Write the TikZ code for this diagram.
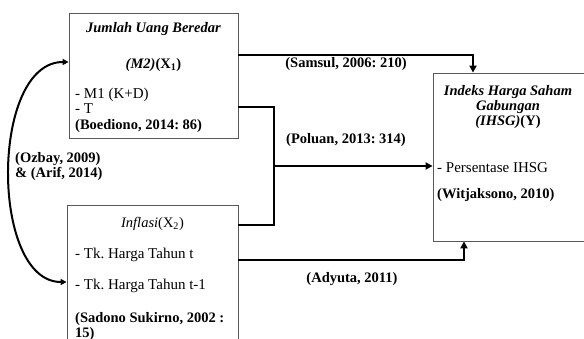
\documentclass[tikz,border=0pt]{standalone}
\usepackage{fontspec}
\setmainfont{Liberation Serif}
\usepackage{tikz}
\usetikzlibrary{positioning, arrows.meta, calc}
\frenchspacing

\begin{document}
\begin{tikzpicture}[x=1pt, y=-1pt,
    varbox/.style={rectangle, draw=black!65, line width=0.8pt, inner sep=0pt},
    txt/.style={inner sep=0pt, font=\fontsize{14.5}{13}\selectfont},
    item/.style={inner sep=0pt, font=\fontsize{15}{13}\selectfont},
    cite/.style={inner sep=0pt, font=\fontsize{14.5}{15}\selectfont\bfseries},
    link/.style={line width=2.4pt},
    tip/.style={-{Triangle[length=7pt, width=7pt]}}]

\useasboundingbox (0,0) rectangle (584,338);
\clip (0,0) rectangle (584,338);

% Jumlah Uang Beredar
\node[varbox, minimum width=169pt, minimum height=125pt] (uang) at (153.5,75.5) {};
\node[txt, anchor=base] (uangT) at (153.5,32) {\textbf{\textit{Jumlah Uang Beredar}}};
\node[txt, anchor=base] (uangX) at (153.5,68) {\textbf{\textit{(M2)}(X\textsubscript{1})}};
\node[item, anchor=base west] (uangA) at (75,98.5) {- M1 (K+D)};
\node[item, anchor=base west] (uangB) at (75,113) {- T};
\node[cite, anchor=base west] (uangR) at (75,129) {(Boediono, 2014: 86)};

% Inflasi
\node[varbox, minimum width=171pt, minimum height=140pt] (inflasi) at (152.5,275) {};
\node[txt, anchor=base] (inflasiT) at (152.5,227) {\textit{Inflasi}(X\textsubscript{2})};
\node[item, anchor=base west] (inflasiA) at (75,258) {- Tk. Harga Tahun t};
\node[item, anchor=base west] (inflasiB) at (75,289) {- Tk. Harga Tahun t-1};
\node[cite, anchor=base west] (inflasiR) at (75,322) {(Sadono Sukirno, 2002 :};
\node[cite, anchor=base west] (inflasiS) at (75,337.5) {15)};

% IHSG
\node[varbox, minimum width=157pt, minimum height=168pt] (ihsg) at (511.5,157) {};
\node[txt, anchor=base] (ihsgT) at (508,95) {\textbf{\textit{Indeks Harga Saham}}};
\node[txt, anchor=base] (ihsgU) at (508,110) {\textbf{\textit{Gabungan}}};
\node[txt, anchor=base] (ihsgY) at (508,125.5) {\textbf{\textit{(IHSG)}(Y)}};
\node[item, anchor=base west] (ihsgA) at (437,172) {- Persentase IHSG};
\node[cite, anchor=base west] (ihsgR) at (437,198) {(Witjaksono, 2010)};

% bend points
\coordinate (samsul) at (473,55);
\coordinate (poluanA) at (274,107);
\coordinate (poluanB) at (274,225);
\coordinate (poluan) at (274,166);
\coordinate (adyuta) at (464,260);
\coordinate (ozbayA) at (0,62);
\coordinate (ozbayB) at (0,282);

% X1 -> Y
\draw[link, tip] (uang.east |- samsul) -| (ihsg.north -| samsul);
\node[cite] (samsulL) at (346,64) {(Samsul, 2006: 210)};

% X1 and X2 together -> Y
\draw[link] (uang.east |- poluanA) -- (poluanA) -- (poluanB) -- (inflasi.east |- poluanB);
\draw[link, tip] (poluan) -- (ihsg.west |- poluan);
\node[cite] (poluanL) at (346,140) {(Poluan, 2013: 314)};

% X2 -> Y
\draw[link, tip] (inflasi.east |- adyuta) -| (ihsg.south -| adyuta);
\node[cite] (adyutaL) at (352,279) {(Adyuta, 2011)};

% X1 <-> X2
\draw[line width=2pt, {Triangle[length=6pt, width=6pt]}-{Triangle[length=6pt, width=6pt]}]
    (uang.west |- ozbayA) .. controls (-10,62) and (-10,282) .. (inflasi.west |- ozbayB);
\node[cite, align=left, anchor=west] (ozbayL) at (15,167) {(Ozbay, 2009)\\\& (Arif, 2014)};

\end{tikzpicture}
\end{document}
